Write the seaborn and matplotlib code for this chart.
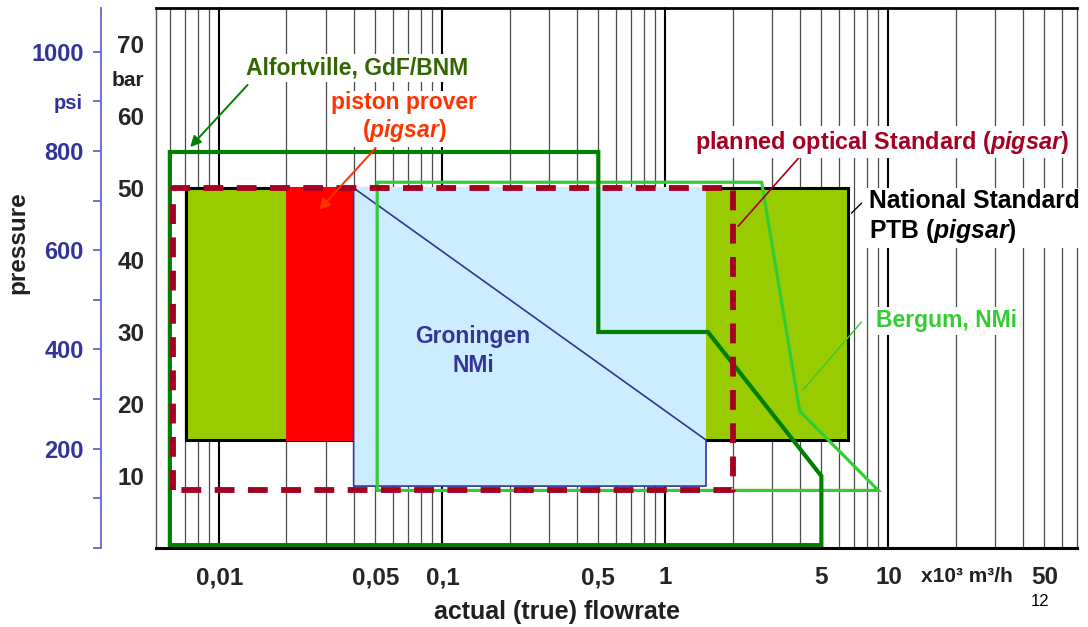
import matplotlib
matplotlib.use('Agg')
import matplotlib.pyplot as plt
import seaborn as sns
from matplotlib.ticker import NullLocator, FixedLocator

sns.set_style('white')
plt.rcParams['font.family'] = ['Liberation Sans', 'DejaVu Sans']
plt.rcParams['font.weight'] = 'bold'
plt.rcParams['mathtext.fontset'] = 'custom'
plt.rcParams['mathtext.rm'] = 'Liberation Sans:bold'
plt.rcParams['mathtext.it'] = 'Liberation Sans:italic:bold'

# flowrate in 10^3 m3/h, pressure in bar
ptb_x = [0.0071, 6.6]
ptb_y = [15, 50]
piston_x = [0.02, 0.04]
piston_y = [14.8, 50.2]
gron_fill_x = [0.04, 1.52]
gron_fill_y = [8.6, 50.2]
gron_x = [0.04, 1.52, 1.52, 0.04, 0.04]
gron_y = [50, 15, 8.6, 8.6, 50]
alf_x = [0.006, 0.006, 0.5, 0.5, 1.55, 5.0, 5.0, 0.006]
alf_y = [0.4, 55, 55, 30, 30, 10, 0.4, 0.4]
berg_x = [0.051, 0.051, 2.7, 4.0, 9.0, 0.051]
berg_y = [8, 50.8, 50.8, 19, 8, 8]
plan_x = [0.0062, 0.0062, 2.0, 2.0, 0.0062]
plan_y = [8, 50, 50, 8, 8]

x_ticks = [0.01, 0.05, 0.1, 0.5, 1, 5, 10, 50]
x_labels = ['0,01', '0,05', '0,1', '0,5', '1', '5', '10', '50']
bar_ticks = [0, 10, 20, 30, 40, 50, 60, 70]
bar_labels = ['', '10', '20', '30', '40', '50', '60', '70']
bar_minor = [5, 15, 25, 35, 45, 55, 65]
psi_ticks = [0, 100, 200, 300, 400, 500, 600, 700, 800, 900, 1000]
psi_labels = ['', '', '200', '', '400', '', '600', '', '800', '', '1000']
PSI_PER_BAR = 14.5038

W, H = 1088, 627


def px(x, y):
    return x / W, 1 - y / H


def rect(xr, yr):
    return [xr[0], xr[1], xr[1], xr[0]], [yr[0], yr[0], yr[1], yr[1]]


fig = plt.figure(figsize=(W / 100, H / 100), dpi=100)
ax = fig.add_axes([156 / W, 79 / H, 921 / W, 540 / H])
ax.set_xscale('log')
ax.set_xlim(0.0052, 70)
ax.set_ylim(0, 75)

# vertical log grid
for dec in [0.001, 0.01, 0.1, 1, 10]:
    for s in range(1, 10):
        v = dec * s
        if 0.0052 <= v <= 70.01:
            if s == 1:
                ax.axvline(v, color='black', lw=1.5, zorder=0.5, clip_on=False)
            else:
                ax.axvline(v, color='#4a4a4a', lw=0.9, zorder=0.5, clip_on=False)

# filled areas
rx, ry = rect(ptb_x, ptb_y)
ax.fill(rx, ry, facecolor='#99CC00', edgecolor='black', lw=2.2, joinstyle='miter', zorder=2)
rx, ry = rect(piston_x, piston_y)
ax.fill(rx, ry, facecolor='#FF0000', edgecolor='none', zorder=3)
rx, ry = rect(gron_fill_x, gron_fill_y)
ax.fill(rx, ry, facecolor='#CCECFF', edgecolor='none', zorder=4)

# outlines
sns.lineplot(x=gron_x, y=gron_y, sort=False, estimator=None, ax=ax, color='#333399',
             lw=1.2, zorder=5)
sns.lineplot(x=berg_x, y=berg_y, sort=False, estimator=None, ax=ax, color='#33CC33',
             lw=2.3, zorder=6, solid_joinstyle='miter')
sns.lineplot(x=alf_x, y=alf_y, sort=False, estimator=None, ax=ax, color='#008000',
             lw=3.0, zorder=7, solid_joinstyle='miter')
ax.plot(plan_x, plan_y, color='#A50021', lw=4.2, linestyle=(0, (3.4, 2.3)),
        dash_capstyle='butt', zorder=8)

# axes styling
ax.spines['right'].set_visible(False)
ax.spines['top'].set_color('black')
ax.spines['top'].set_linewidth(2)
ax.spines['bottom'].set_color('black')
ax.spines['bottom'].set_linewidth(2.2)
ax.spines['left'].set_color('#555555')
ax.spines['left'].set_linewidth(1)
for sp in ax.spines.values():
    sp.set_zorder(9)

ax.set_xticks(x_ticks, x_labels)
ax.xaxis.set_minor_locator(NullLocator())
ax.tick_params(axis='x', which='major', direction='out', length=5, width=1.5,
               color='black', pad=8, labelsize=17.5)
ax.set_yticks(bar_ticks, bar_labels)
ax.yaxis.set_minor_locator(FixedLocator(bar_minor))
ax.tick_params(axis='y', which='major', direction='out', length=5.5, width=1.5,
               color='black', pad=3, labelsize=17.5)
ax.tick_params(axis='y', which='minor', direction='out', length=3, width=1, color='black')
ax.set_xlabel('')
ax.set_ylabel('')

# psi axis
sec = ax.secondary_yaxis(-0.0597, functions=(lambda b: b * PSI_PER_BAR,
                                             lambda p: p / PSI_PER_BAR))
sec.set_yticks(psi_ticks, labels=psi_labels)
sec.yaxis.set_minor_locator(NullLocator())
sec.spines['left'].set_color('#6666CC')
sec.spines['left'].set_linewidth(1.3)
sec.tick_params(axis='y', which='major', direction='out', length=5.5, width=1.3,
                color='#6666CC', labelcolor='#333399', pad=7, labelsize=17)

ax.annotate('psi', xy=(-0.0597, 900 / PSI_PER_BAR), xycoords=('axes fraction', 'data'),
            xytext=(-13, -2), textcoords='offset points', ha='right', va='center',
            fontsize=14.5, color='#333399', annotation_clip=False)
ax.annotate('bar', xy=(0, 65), xycoords=('axes fraction', 'data'),
            xytext=(-8.6, 0), textcoords='offset points', ha='right', va='center',
            fontsize=15, color='#231F20', annotation_clip=False)

# annotations
box = dict(facecolor='white', edgecolor='none', pad=2)
fig.text(*px(357, 68), 'Alfortville, GdF/BNM', ha='center', va='center',
         fontsize=16.5, color='#336600', bbox=box, zorder=10)
ax.annotate('', xy=(0.00726, 55.4), xytext=(0.01365, 64.6),
            arrowprops=dict(arrowstyle='-|>', color='#008000', lw=1.4, mutation_scale=16),
            zorder=10)
fig.text(*px(404, 118), 'piston prover\n($\\mathit{pigsar)}$', ha='center', va='center',
         fontsize=16.5, color='#FF3300', bbox=box, zorder=10, linespacing=1.15)
ax.annotate('', xy=(0.0275, 46.7), xytext=(0.0511, 55.8),
            arrowprops=dict(arrowstyle='-|>', color='#FF3300', lw=1.4, mutation_scale=16),
            zorder=10)
fig.text(*px(882, 142), 'planned optical Standard $\\mathit{(pigsar)}$', ha='center',
         va='center', fontsize=16.9, color='#A50021', bbox=box, zorder=10)
ax.plot([3.99, 2.12], [54.3, 44.7], color='#A50021', lw=1.2, zorder=10)
fig.text(*px(869, 217), 'National Standard\nPTB $\\mathit{(pigsar)}$', ha='left',
         va='center', fontsize=17.8, color='black', bbox=box, zorder=10, linespacing=1.2)
ax.plot([7.57, 6.82], [47.9, 46.5], color='black', lw=1, zorder=10, clip_on=False)
fig.text(*px(876, 321), 'Bergum, NMi', ha='left', va='center', fontsize=16.5,
         color='#33CC33', bbox=box, zorder=10)
ax.plot([7.57, 4.12], [31.4, 21.9], color='#33CC33', lw=1, zorder=10)
fig.text(*px(473, 351), 'Groningen\nNMi', ha='center', va='center', fontsize=16.5,
         color='#333399', zorder=10, linespacing=1.3)

fig.text(*px(18, 243), 'pressure', rotation=90, ha='center', va='center',
         fontsize=17.5, color='#231F20')
fig.text(*px(557, 612), 'actual (true) flowrate', ha='center', va='center',
         fontsize=18, color='#231F20')
fig.text(*px(967, 577), 'x10³ m³/h', ha='center', va='center', fontsize=15,
         color='#231F20')
fig.text(*px(1040, 602), '12', ha='center', va='center', fontsize=12,
         fontweight='normal', color='black')

fig.savefig('out.png', dpi=100)
